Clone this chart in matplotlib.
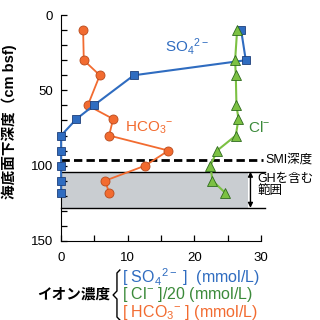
import matplotlib.pyplot as plt
from matplotlib.lines import Line2D
from matplotlib.ticker import MultipleLocator

plt.rcParams['font.family'] = ['Liberation Sans', 'Noto Sans CJK JP']
plt.rcParams['mathtext.fontset'] = 'custom'
plt.rcParams['mathtext.rm'] = 'Liberation Sans'
plt.rcParams['mathtext.it'] = 'Liberation Sans:italic'

# ---- data (depth in cm bsf) ----
depth = [10, 30, 40, 60, 69, 80, 90, 100, 110, 118]
so4 = [27.0, 27.7, 10.9, 4.9, 2.3, 0, 0, 0, 0, 0]
hco3 = [3.3, 3.4, 5.8, 4.0, 7.8, 7.2, 16.1, 12.6, 6.6, 7.2]
cl_20 = [26.4, 26.1, 26.2, 26.3, 26.6, 26.2, 23.4, 22.4, 22.7, 24.6]

smi_depth = 96
gh_top, gh_bottom = 104, 128

BLUE = '#2f6cc0'
ORANGE = '#f26b30'
GREEN = '#7cc143'
DGREEN = '#3b8a3a'

fig = plt.figure(figsize=(3.2, 3.2), dpi=100)
ax = fig.add_axes([0.191, 0.247, 0.625, 0.706])

# GH zone
ax.fill_between([0, 28], gh_top, gh_bottom, color='#c9cdd1', lw=0, zorder=0)
for d in (gh_top, gh_bottom):
    ax.plot([0, 30.6], [d, d], color='black', lw=1.0, clip_on=False, zorder=1)
ax.annotate('', xy=(28.4, gh_top), xytext=(28.4, gh_bottom),
            arrowprops=dict(arrowstyle='<|-|>', color='black', lw=1.0,
                            mutation_scale=7, shrinkA=0, shrinkB=0))

# SMI depth
ax.plot([0, 30.3], [smi_depth, smi_depth], color='black', lw=2.0,
        dashes=(3, 1.5), clip_on=False, zorder=2)

# profiles
ax.plot(hco3, depth, color=ORANGE, lw=1.3, marker='o', ms=6.5,
        mfc=ORANGE, mec='#b84a1c', mew=0.6, clip_on=False, zorder=4)
ax.plot(so4, depth, color=BLUE, lw=1.5, marker='s', ms=5.5,
        mfc=BLUE, mec='#1e3f7a', mew=0.6, clip_on=False, zorder=5)
ax.plot(cl_20, depth, color=GREEN, lw=1.5, marker='^', ms=7,
        mfc=GREEN, mec='#2e6a1e', mew=0.6, clip_on=False, zorder=6)

# labels in plot
ax.text(15.6, 21, r'SO$_4$$^{\mathrm{2-}}$', color=BLUE, fontsize=11, va='center')
ax.text(9.6, 75, r'HCO$_3$$^{\mathrm{-}}$', color=ORANGE, fontsize=11, va='center')
ax.text(28.0, 75, r'Cl$^{\mathrm{-}}$', color=DGREEN, fontsize=11, va='center')
ax.text(30.6, 96, 'SMI深度', fontsize=9, va='center', clip_on=False)
ax.text(29.4, 113, 'GHを含む\n範囲', fontsize=9, va='center',
        linespacing=0.95, clip_on=False)

# axes styling
ax.set_xlim(0, 30)
ax.set_ylim(150, 0)
ax.spines['top'].set_visible(False)
ax.spines['right'].set_visible(False)
ax.xaxis.set_major_locator(MultipleLocator(10))
ax.xaxis.set_minor_locator(MultipleLocator(5))
ax.yaxis.set_major_locator(MultipleLocator(50))
ax.yaxis.set_minor_locator(MultipleLocator(10))
ax.tick_params(which='both', direction='in', length=4, width=0.9, labelsize=9.5)
ax.tick_params(axis='x', pad=8)
ax.tick_params(axis='y', pad=6)

fig.text(9 / 320, 1 - 122 / 320, '海底面下深度（cm bsf)', rotation=90,
         fontsize=10.5, ha='center', va='center', fontweight='bold')

# bottom legend with brace
fig.text(110 / 320, 1 - 295 / 320, 'イオン濃度', fontsize=10.5, ha='right',
         va='center', fontweight='bold')
bx = 116 / 320
brace = Line2D([bx + 0.012, bx + 0.003, bx + 0.003, bx - 0.009, bx + 0.003, bx + 0.003, bx + 0.012],
               [1 - 270 / 320, 1 - 273 / 320, 1 - 291 / 320, 1 - 295 / 320,
                1 - 299 / 320, 1 - 317 / 320, 1 - 320 / 320],
               transform=fig.transFigure, color='black', lw=1.0)
fig.add_artist(brace)
tx = 122 / 320
fig.text(tx, 1 - 277 / 320, r'[ SO$_4$$^{\mathrm{2-}}$ ]  (mmol/L)', color=BLUE,
         fontsize=11.5, va='center')
fig.text(tx, 1 - 295 / 320, r'[ Cl$^{\mathrm{-}}$ ]/20 (mmol/L)', color=DGREEN,
         fontsize=11.5, va='center')
fig.text(tx, 1 - 313 / 320, r'[ HCO$_3$$^{\mathrm{-}}$ ] (mmol/L)', color=ORANGE,
         fontsize=11.5, va='center')

fig.savefig('out.png', dpi=100)
